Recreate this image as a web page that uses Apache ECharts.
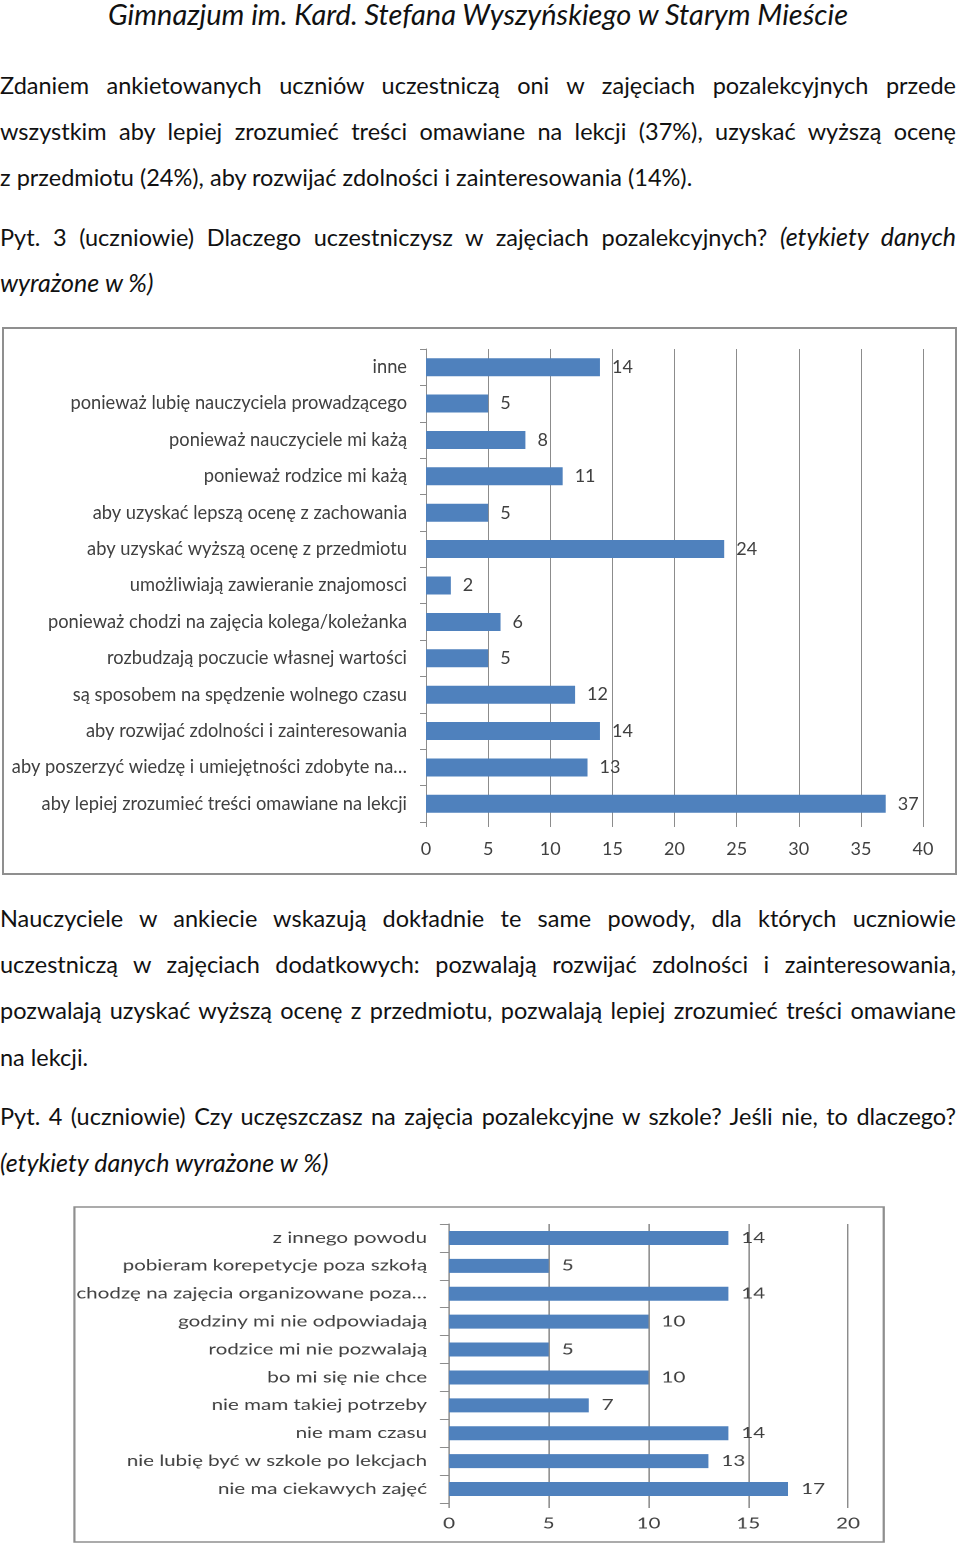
<!DOCTYPE html>
<html><head><meta charset="utf-8">
<script src="https://cdn.jsdelivr.net/npm/echarts@6/dist/echarts.min.js"></script>
<style>
html,body{margin:0;padding:0;background:#fff;}
body{width:960px;height:1543px;position:relative;overflow:hidden;font-family:Lato,"Noto Sans",sans-serif;color:#111;}
.ln{position:absolute;left:0;width:956px;height:32px;line-height:32px;font-size:23.5px;white-space:nowrap;}
.j{text-align:justify;text-align-last:justify;}
.it,.ln i{font-style:italic;font-size:25px;}
#hdr{position:absolute;left:0;width:956px;top:-3px;height:34px;line-height:34px;text-align:center;font-style:italic;font-size:29px;}
#c1{position:absolute;left:2px;top:327px;width:955px;height:548px;}
#c2wrap{position:absolute;left:73px;top:1206px;width:812px;height:337px;overflow:hidden;}
#c2{position:absolute;left:0;top:0;height:337px;transform-origin:0 0;}
</style></head><body>
<div id="hdr">Gimnazjum im. Kard. Stefana Wyszyńskiego w Starym Mieście</div>
<div class="ln j" style="top:69px">Zdaniem ankietowanych uczniów uczestniczą oni w zajęciach pozalekcyjnych przede</div>
<div class="ln j" style="top:115px">wszystkim aby lepiej zrozumieć treści omawiane na lekcji (37%), uzyskać wyższą ocenę</div>
<div class="ln" style="top:161px">z przedmiotu (24%), aby rozwijać zdolności i zainteresowania (14%).</div>
<div class="ln j" style="top:220px">Pyt. 3 (uczniowie) Dlaczego uczestniczysz w zajęciach pozalekcyjnych? <i>(etykiety danych</i></div>
<div class="ln it" style="top:266px">wyrażone w %)</div>
<div id="c1"></div>
<div class="ln j" style="top:902px">Nauczyciele w ankiecie wskazują dokładnie te same powody, dla których uczniowie</div>
<div class="ln j" style="top:948px">uczestniczą w zajęciach dodatkowych: pozwalają rozwijać zdolności i zainteresowania,</div>
<div class="ln j" style="top:994px">pozwalają uzyskać wyższą ocenę z przedmiotu, pozwalają lepiej zrozumieć treści omawiane</div>
<div class="ln" style="top:1041px">na lekcji.</div>
<div class="ln j" style="top:1100px">Pyt. 4 (uczniowie) Czy uczęszczasz na zajęcia pozalekcyjne w szkole? Jeśli nie, to dlaczego?</div>
<div class="ln it" style="top:1146px">(etykiety danych wyrażone w %)</div>
<div id="c2wrap"><div id="c2"></div></div>
<script>
// Chart 1 data (top to bottom)
const categories1 = [
  "inne",
  "ponieważ lubię nauczyciela prowadzącego",
  "ponieważ nauczyciele mi każą",
  "ponieważ rodzice mi każą",
  "aby uzyskać lepszą ocenę z zachowania",
  "aby uzyskać wyższą ocenę z przedmiotu",
  "umożliwiają zawieranie znajomosci",
  "ponieważ chodzi na zajęcia kolega/koleżanka",
  "rozbudzają poczucie własnej wartości",
  "są sposobem na spędzenie wolnego czasu",
  "aby rozwijać zdolności i zainteresowania",
  "aby poszerzyć wiedzę i umiejętności zdobyte na…",
  "aby lepiej zrozumieć treści omawiane na lekcji"
];
const values1 = [14, 5, 8, 11, 5, 24, 2, 6, 5, 12, 14, 13, 37];
const axisMax1 = 40, axisStep1 = 5;

// Chart 2 data (top to bottom)
const categories2 = [
  "z innego powodu",
  "pobieram korepetycje poza szkołą",
  "chodzę na zajęcia organizowane poza…",
  "godziny mi nie odpowiadają",
  "rodzice mi nie pozwalają",
  "bo mi się nie chce",
  "nie mam takiej potrzeby",
  "nie mam czasu",
  "nie lubię być w szkole po lekcjach",
  "nie ma ciekawych zajęć"
];
const values2 = [14, 5, 14, 10, 5, 10, 7, 14, 13, 17];
const axisMax2 = 20, axisStep2 = 5;

const BLUE = '#4f81bd', GRID = '#8c8c8c', TXT = '#404040';

// fit justified lines that would overflow
document.querySelectorAll('.ln.j').forEach(el => {
  let fs = 23.5;
  while (el.scrollWidth > el.clientWidth + 1 && fs > 18) {
    fs -= 0.25; el.style.fontSize = fs + 'px';
  }
});

function build(o) {
  return {
    animation: false,
    graphic: [{type:'rect', silent:true, shape:{x:1, y:1, width:o.w-2, height:o.h-2},
      style:{fill:'none', stroke:'#8f8f8f', lineWidth:o.bl}}],
    grid: Object.assign({containLabel:false, outerBoundsMode:'none'}, o.grid),
    xAxis: {
      type:'value', min:0, max:o.max, interval:o.step,
      axisLine:{show:false},
      axisTick:{show:true, length:5, lineStyle:{color:GRID}},
      splitLine:{show:true, lineStyle:{color:GRID, width:1}},
      axisLabel:{color:TXT, fontSize:o.tfs, fontFamily:o.ff, margin:o.xm}
    },
    yAxis: {
      type:'category', data:o.cats, inverse:true,
      axisLine:{show:true, lineStyle:{color:GRID}},
      axisTick:{show:true, length:o.tl, lineStyle:{color:GRID}},
      axisLabel:{color:TXT, fontSize:o.cfs, fontFamily:o.ff, margin:o.ym, interval:0}
    },
    series: [{
      type:'bar', data:o.vals, barWidth:o.bw, itemStyle:{color:BLUE},
      label:{show:true, position:'right', distance:o.ld, color:TXT, fontSize:o.lfs, fontFamily:o.ff}
    }]
  };
}

const ch1 = echarts.init(document.getElementById('c1'), null, {renderer:'canvas'});
ch1.setOption(build({w:955, h:548, bl:2, grid:{left:424, top:22, width:497, height:473},
  max:axisMax1, step:axisStep1, cats:categories1, vals:values1, bw:18,
  cfs:18.3, tfs:18, lfs:18, ff:'Lato', xm:18, ym:19, tl:6, ld:12}));

// chart 2: the reference chart is horizontally stretched; reproduce with a CSS scaleX
const S = 1.37;
const c2 = document.getElementById('c2');
c2.style.width = (812 / S) + 'px';
c2.style.transform = 'scaleX(' + S + ')';
const ch2 = echarts.init(c2, null, {renderer:'canvas', devicePixelRatio:2});
ch2.setOption(build({w:812 / S, h:337, bl:1.6, grid:{left:376 / S, top:18, width:399 / S, height:279},
  max:axisMax2, step:axisStep2, cats:categories2, vals:values2, bw:14,
  cfs:15, tfs:15, lfs:15, ff:'Lato', xm:13, ym:22 / S, tl:9 / S, ld:13 / S}));
</script>
</body></html>
